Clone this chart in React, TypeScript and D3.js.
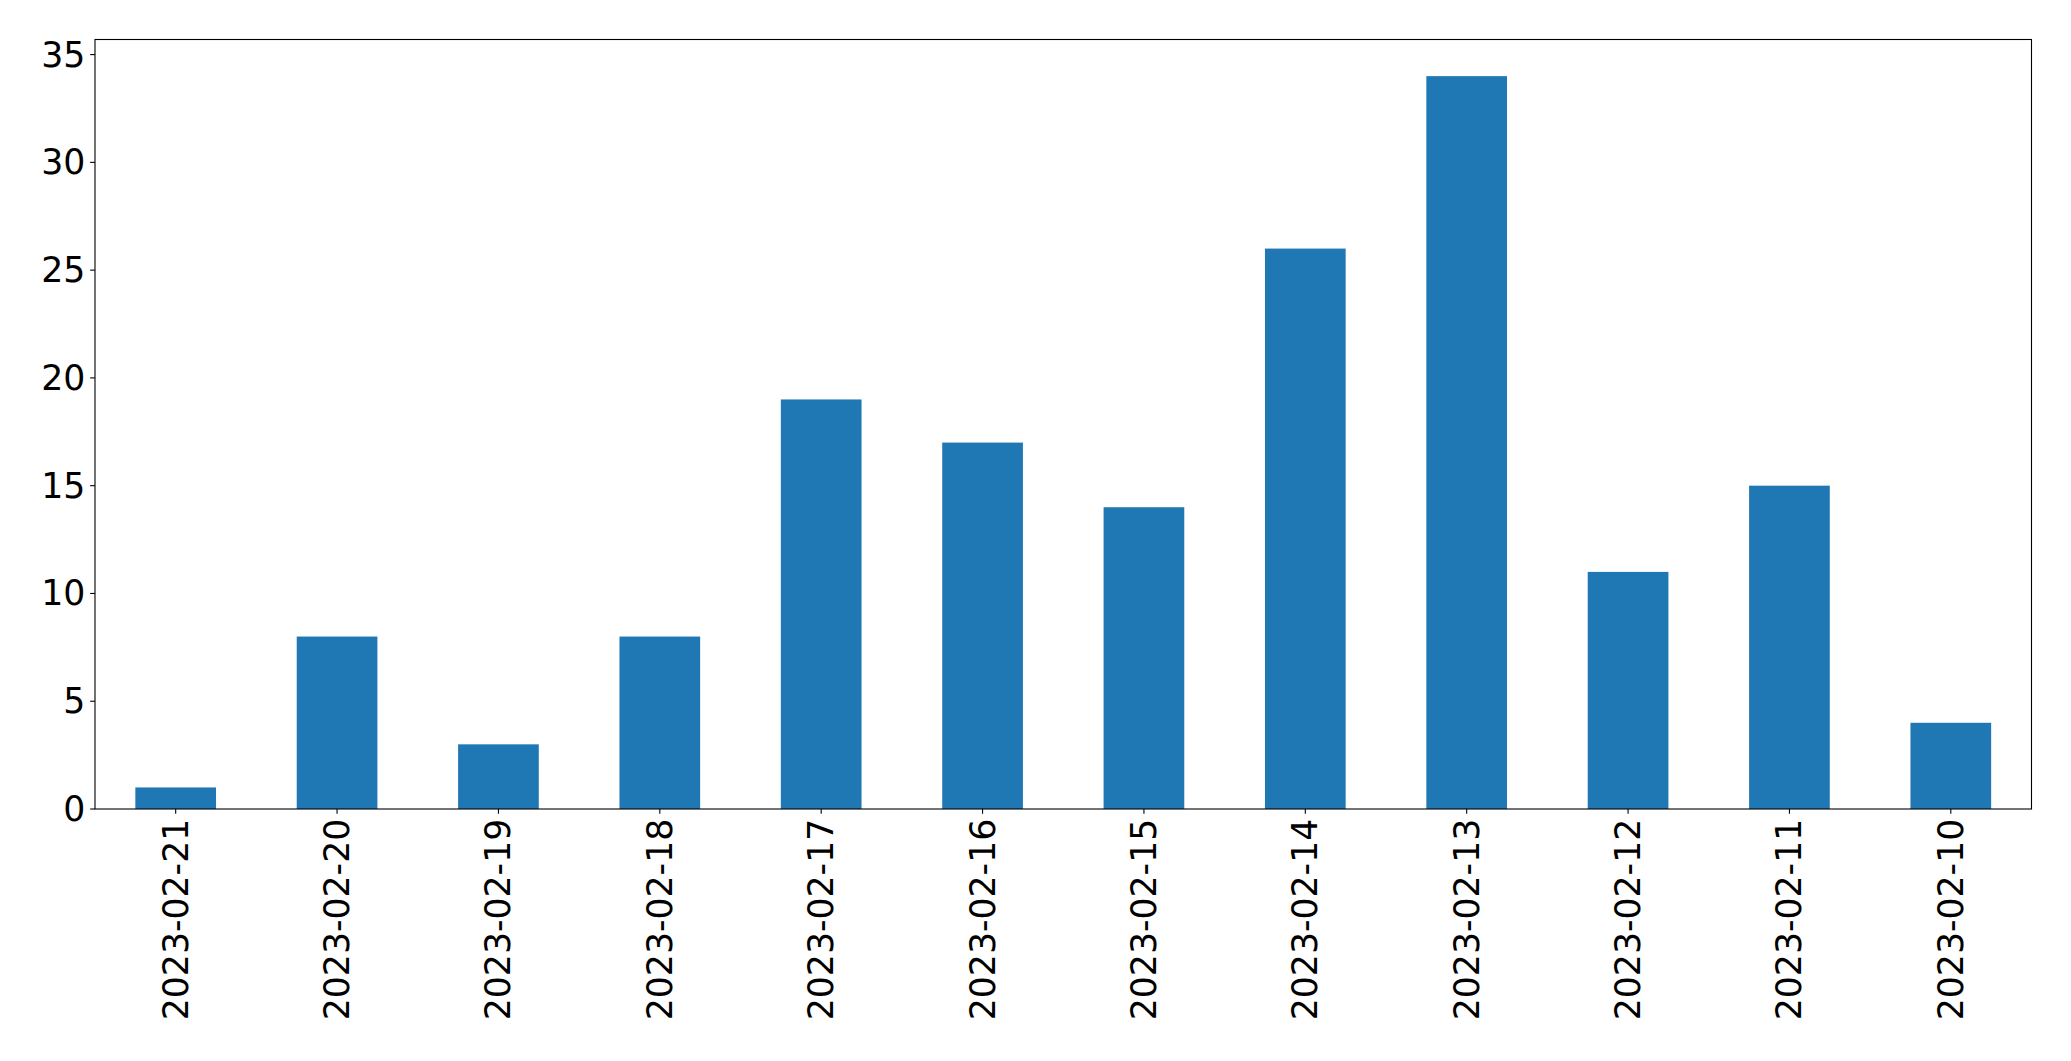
import React from "react";
import * as d3 from "d3";

const categories = [
  "2023-02-21", "2023-02-20", "2023-02-19", "2023-02-18", "2023-02-17", "2023-02-16",
  "2023-02-15", "2023-02-14", "2023-02-13", "2023-02-12", "2023-02-11", "2023-02-10",
];
const values = [1, 8, 3, 8, 19, 17, 14, 26, 34, 11, 15, 4];
const yTicks = [0, 5, 10, 15, 20, 25, 30, 35];

const W = 2071;
const H = 1061;
const left = 95;
const right = 2031.5;
const top = 39.5;
const bottom = 809;
const fontSize = 34.7;
const tickLen = 4.86;
const pad = 4.86;
const color = "#1f77b4";

export default function App() {
  const yMax = d3.max(values)! * 1.05;
  const x = d3.scaleLinear().domain([-0.5, categories.length - 0.5]).range([left, right]);
  const y = d3.scaleLinear().domain([0, yMax]).range([bottom, top]);
  const barW = x(0.5) - x(0);
  const font = "'DejaVu Sans', sans-serif";

  return (
    <svg
      width={W}
      height={H}
      style={{ position: "absolute", left: 0, top: 0, background: "#fff" }}
      fontFamily={font}
    >
      {values.map((v, i) => (
        <rect
          key={i}
          x={x(i) - barW / 2}
          y={y(v)}
          width={barW}
          height={y(0) - y(v)}
          fill={color}
        />
      ))}
      <rect
        x={left}
        y={top}
        width={right - left}
        height={bottom - top}
        fill="none"
        stroke="#000"
        strokeWidth={1.1}
      />
      {yTicks.map((t) => (
        <g key={t}>
          <line x1={left - tickLen} x2={left} y1={y(t)} y2={y(t)} stroke="#000" strokeWidth={1.1} />
          <text
            x={left - tickLen - pad}
            y={y(t)}
            textAnchor="end"
            dominantBaseline="central"
            fontSize={fontSize}
            fill="#000"
          >
            {t}
          </text>
        </g>
      ))}
      {categories.map((c, i) => (
        <g key={c}>
          <line x1={x(i)} x2={x(i)} y1={bottom} y2={bottom + tickLen} stroke="#000" strokeWidth={1.1} />
          <text
            transform={`translate(${x(i)},${bottom + tickLen + pad}) rotate(-90)`}
            textAnchor="end"
            dominantBaseline="central"
            fontSize={fontSize}
            fill="#000"
          >
            {c}
          </text>
        </g>
      ))}
    </svg>
  );
}
